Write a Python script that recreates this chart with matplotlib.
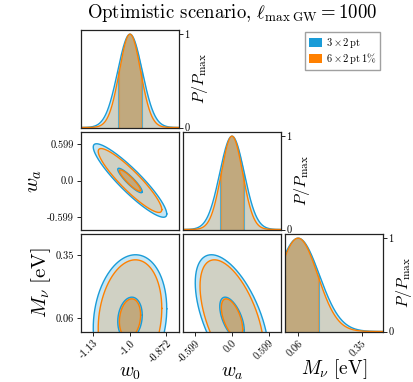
import numpy as np
import matplotlib
matplotlib.use("Agg")
import matplotlib.pyplot as plt
from matplotlib.patches import Patch

plt.rcParams['font.family'] = 'serif'
plt.rcParams['font.serif'] = ['cmr10']
plt.rcParams['mathtext.fontset'] = 'cm'
plt.rcParams['axes.unicode_minus'] = False
plt.rcParams['axes.formatter.use_mathtext'] = True

# ---------------- data ----------------
params = ["w0", "wa", "Mnu"]
labels = [r"$w_0$", r"$w_a$", r"$M_\nu\ \mathrm{[eV]}$"]
means = [-1.0, 0.0, 0.06]
sigma_3x2 = [0.043, 0.20, 0.0967]
sigma_6x2 = [0.0372, 0.174, 0.089]
# pairwise correlation (i, j)
corr_3x2 = {(1, 0): -0.91, (2, 0): 0.15, (2, 1): -0.56}
corr_6x2 = {(1, 0): -0.91, (2, 0): 0.17, (2, 1): -0.55}

tick_pos = [[-1.129, -1.0, -0.872], [-0.599, 0.0, 0.599], [0.06, 0.35]]
tick_lab = [["-1.13", "-1.0", "-0.872"], ["-0.599", "0.0", "0.599"], ["0.06", "0.35"]]
ax_lims = [(-1.172, -0.828), (-0.80, 0.80), (0.0, 0.447)]

series = ["3x2", "6x2"]
legend_labels = [r"$3\times2\,\mathrm{pt}$", r"$6\times2\,\mathrm{pt}\,1\%$"]
line_colors = ["#1a9cd8", "#ff8000"]
title = r"Optimistic scenario, $\ell_{\max\;\mathrm{GW}}=1000$"

W, H = 413, 382
fig = plt.figure(figsize=(W / 100, H / 100), dpi=100)

col_left = [81, 183, 285]
row_top = [29.5, 131.5, 233.5]
pw, ph = 98, 98

fill_alpha_outer = [0.25, 0.20]
fill_alpha_inner = [0.32, 0.33]
xlabel_y = [-0.33, -0.33, -0.265]

def add_ax(r, c):
    return fig.add_axes([col_left[c] / W, (H - row_top[r] - ph) / H, pw / W, ph / H])

sigmas = [sigma_3x2, sigma_6x2]
corrs = [corr_3x2, corr_6x2]

tick_fs = 7.5
for r in range(3):
    for c in range(r + 1):
        ax = add_ax(r, c)
        for s in ax.spines.values():
            s.set_linewidth(0.9)
            s.set_color("#222222")
        if r == c:
            i = r
            x = np.linspace(ax_lims[i][0], ax_lims[i][1], 600)
            for k in range(2):
                mu, sg = means[i], sigmas[k][i]
                y = np.exp(-0.5 * ((x - mu) / sg) ** 2)
                ax.fill_between(x, 0, y, color=line_colors[k], alpha=fill_alpha_outer[k], lw=0)
                m = (x >= mu - sg) & (x <= mu + sg)
                ax.fill_between(x[m], 0, y[m], color=line_colors[k], alpha=fill_alpha_inner[k], lw=0)
                ax.plot(x, y, color=line_colors[k], lw=1.0)
                yb = np.exp(-0.5)
                ax.vlines([max(mu - sg, ax_lims[i][0]), mu + sg], 0, yb, color=line_colors[k], lw=0.8, alpha=0.6)
            ax.set_ylim(0, 1.05)
            ax.set_xlim(*ax_lims[i])
            ax.yaxis.tick_right()
            ax.yaxis.set_label_position("right")
            ax.set_yticks([0, 1])
            ax.set_yticklabels(["0", "1"], fontsize=tick_fs)
            ax.set_ylabel(r"$P/P_{\max}$", fontsize=11.5, labelpad=0)
            ax.tick_params(axis="y", length=3, width=0.6, pad=1)
        else:
            i, j = r, c  # y param i, x param j
            t = np.linspace(0, 2 * np.pi, 400)
            for k in range(2):
                sx, sy = sigmas[k][j], sigmas[k][i]
                rho = corrs[k][(i, j)]
                cov = np.array([[sx ** 2, rho * sx * sy], [rho * sx * sy, sy ** 2]])
                L = np.linalg.cholesky(cov)
                circ = np.vstack([np.cos(t), np.sin(t)])
                for lev, a in zip([3.0, 1.0], [fill_alpha_outer[k], fill_alpha_inner[k]]):
                    pts = L @ (lev * circ)
                    ax.fill(means[j] + pts[0], means[i] + pts[1], color=line_colors[k], alpha=a, lw=0)
                for lev in [3.0, 1.0]:
                    pts = L @ (lev * circ)
                    ax.plot(means[j] + pts[0], means[i] + pts[1], color=line_colors[k], lw=1.0)
            ax.set_xlim(*ax_lims[j])
            ax.set_ylim(*ax_lims[i])
            if c == 0:
                ax.set_yticks(tick_pos[i])
                ax.set_yticklabels(tick_lab[i], fontsize=tick_fs)
                ax.set_ylabel(labels[i], fontsize=15, labelpad=2)
                ax.tick_params(axis="y", length=3, width=0.6, pad=2)
            else:
                ax.set_yticks([])
        if r == 2:
            ax.set_xticks(tick_pos[c])
            ax.set_xticklabels(tick_lab[c], fontsize=tick_fs, rotation=45, ha="right", rotation_mode="anchor")
            ax.tick_params(axis="x", length=3, width=0.6, pad=2)
            ax.set_xlabel(labels[c], fontsize=14)
            ax.xaxis.set_label_coords(0.5, xlabel_y[c])
        else:
            ax.set_xticks([])

handles = [Patch(facecolor=line_colors[k], edgecolor="none") for k in range(2)]
fig.legend(handles, legend_labels, loc="upper right", bbox_to_anchor=(385 / W, 1 - 27 / H),
           fontsize=7.5, frameon=True, fancybox=False, edgecolor="#888888",
           handlelength=1.2, handleheight=0.9, handletextpad=0.4, borderpad=0.35, labelspacing=0.1)

fig.text(232 / W, 1 - 13 / H, title, ha="center", va="center", fontsize=13.5)

fig.savefig("out.png", dpi=100)
